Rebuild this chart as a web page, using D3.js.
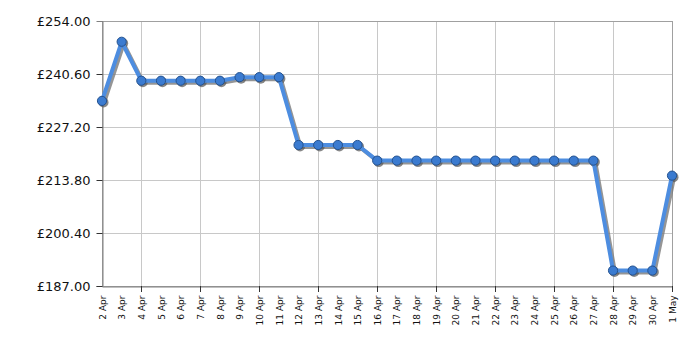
<!DOCTYPE html>
<html>
<head>
<meta charset="utf-8">
<script src="https://cdn.jsdelivr.net/npm/d3@7"></script>
<style>
  body { margin: 0; background: #fff; }
  text { font-family: "DejaVu Sans", Verdana, sans-serif; fill: #111; }
</style>
</head>
<body>
<div id="chart"></div>
<script>
// Price history data
const dates = ["2 Apr", "3 Apr", "4 Apr", "5 Apr", "6 Apr", "7 Apr", "8 Apr", "9 Apr", "10 Apr", "11 Apr",
    "12 Apr", "13 Apr", "14 Apr", "15 Apr", "16 Apr", "17 Apr", "18 Apr", "19 Apr", "20 Apr", "21 Apr",
    "22 Apr", "23 Apr", "24 Apr", "25 Apr", "26 Apr", "27 Apr", "28 Apr", "29 Apr", "30 Apr", "1 May"];
const prices = [233.8, 248.75, 238.9, 238.9, 238.9, 238.9, 238.9, 239.8, 239.8, 239.8,
    222.65, 222.65, 222.65, 222.65, 218.7, 218.7, 218.7, 218.7, 218.7, 218.7,
    218.7, 218.7, 218.7, 218.7, 218.7, 218.7, 190.9, 190.9, 190.9, 214.9];
const yTicks = [187.00, 200.40, 213.80, 227.20, 240.60, 254.00];
const gridDates = ["4 Apr", "7 Apr", "10 Apr", "13 Apr", "16 Apr", "19 Apr", "22 Apr", "25 Apr", "28 Apr", "1 May"];

const margin = { top: 21, right: 28, bottom: 64, left: 102 },
    width = 700 - margin.left - margin.right,
    height = 350 - margin.top - margin.bottom;

const svg = d3.select("#chart")
    .append("svg")
    .attr("width", 700)
    .attr("height", 350)
    .append("g")
    .attr("transform", "translate(" + margin.left + "," + margin.top + ")");

const x = d3.scalePoint()
    .domain(dates)
    .range([0, width]);

const y = d3.scaleLinear()
    .domain([187, 254])
    .range([height, 0]);

// Grid lines
svg.append("g")
    .selectAll("line")
    .data(yTicks)
    .enter()
    .append("line")
    .attr("x1", 0)
    .attr("x2", width)
    .attr("y1", d => Math.round(y(d)) + 0.5)
    .attr("y2", d => Math.round(y(d)) + 0.5)
    .style("stroke", "#c8c8c8");

svg.append("g")
    .selectAll("line")
    .data(gridDates)
    .enter()
    .append("line")
    .attr("x1", d => Math.round(x(d)) + 0.5)
    .attr("x2", d => Math.round(x(d)) + 0.5)
    .attr("y1", 0)
    .attr("y2", height)
    .style("stroke", "#c8c8c8");

// Frame
svg.append("rect")
    .attr("x", 0.5)
    .attr("y", 0.5)
    .attr("width", width)
    .attr("height", height)
    .style("fill", "none")
    .style("stroke", "#a0a0a0");

// Y axis
const yAxis = svg.append("g")
    .attr("transform", "translate(0.5,0)")
    .call(d3.axisLeft(y)
        .tickValues(yTicks)
        .tickSize(6)
        .tickFormat(d => "£" + d3.format(".2f")(d)));
yAxis.select(".domain").style("stroke", "#808080");
yAxis.selectAll(".tick line").style("stroke", "#333").filter(d => d === 254).remove();
yAxis.selectAll("text")
    .attr("x", -12)
    .style("font-size", "13px")
    .style("font-family", "DejaVu Sans, sans-serif")
    .style("fill", "#111");

// X axis
const xAxis = svg.append("g")
    .attr("transform", "translate(0," + (height + 0.5) + ")")
    .call(d3.axisBottom(x).tickSize(0));
xAxis.select(".domain").style("stroke", "#808080");
xAxis.selectAll("text")
    .attr("transform", "rotate(-90)")
    .attr("x", -9)
    .attr("y", 0)
    .attr("dy", "0.35em")
    .style("text-anchor", "end")
    .style("font-size", "9px")
    .style("font-family", "DejaVu Sans, sans-serif")
    .style("fill", "#111");

svg.append("g")
    .selectAll("line")
    .data(gridDates)
    .enter()
    .append("line")
    .attr("x1", d => Math.round(x(d)) + 0.5)
    .attr("x2", d => Math.round(x(d)) + 0.5)
    .attr("y1", height)
    .attr("y2", height + 6)
    .style("stroke", "#333");

const points = dates.map((d, i) => ({ date: d, price: prices[i] }));
const line = d3.line()
    .x(d => x(d.date))
    .y(d => y(d.price));

// Shadow
svg.append("path")
    .datum(points)
    .attr("d", line)
    .attr("transform", "translate(2,2)")
    .style("fill", "none")
    .style("stroke", "#7a7a7a")
    .style("stroke-opacity", 0.8)
    .style("stroke-width", 4);

svg.append("g")
    .selectAll("circle")
    .data(points)
    .enter()
    .append("circle")
    .attr("cx", d => x(d.date) + 1.5)
    .attr("cy", d => y(d.price) + 1.5)
    .attr("r", 5)
    .style("fill", "#555")
    .style("fill-opacity", 0.7);

// Line
svg.append("path")
    .datum(points)
    .attr("d", line)
    .style("fill", "none")
    .style("stroke", "#4d8de0")
    .style("stroke-width", 4)
    .style("stroke-linejoin", "round");

// Points
svg.append("g")
    .selectAll("circle")
    .data(points)
    .enter()
    .append("circle")
    .attr("cx", d => x(d.date))
    .attr("cy", d => y(d.price))
    .attr("r", 4.6)
    .style("fill", "#3b7bd0")
    .style("stroke", "#24528f")
    .style("stroke-width", 1);
</script>
</body>
</html>
